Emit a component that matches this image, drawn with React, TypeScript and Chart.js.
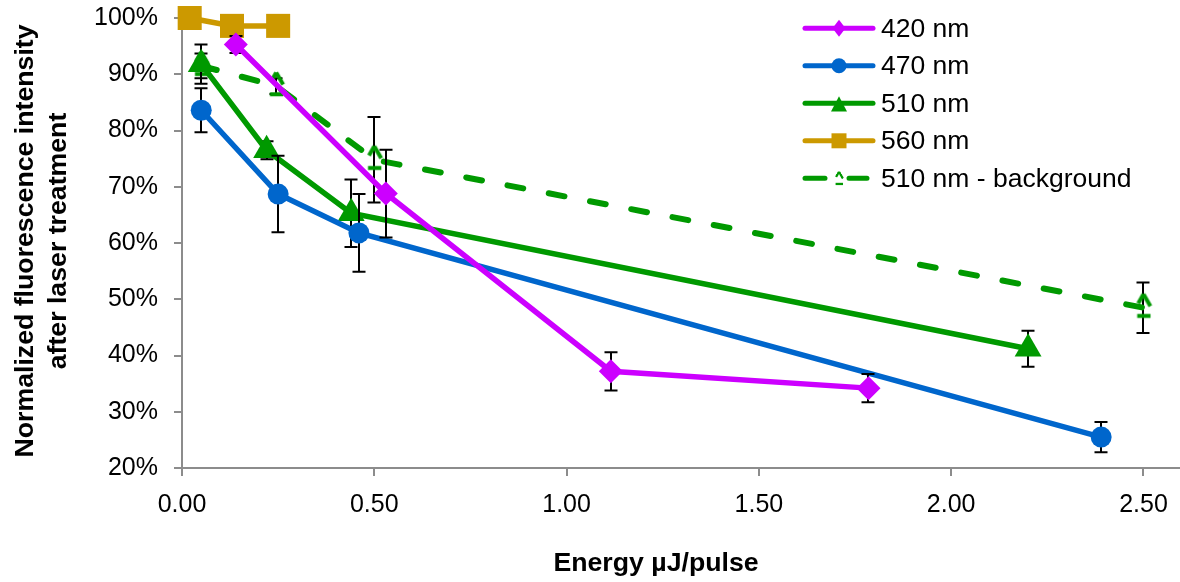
import React, { useEffect, useRef } from 'react';
import { Chart, registerables } from 'chart.js';

Chart.register(...registerables);

const FONT = '"Liberation Sans", Arial, Helvetica, sans-serif';

// ---- data ----
const seriesNames = ['420 nm', '470 nm', '510 nm', '560 nm', '510 nm - background'];

const x420 = [0.14, 0.53, 1.115, 1.785];
const y420 = [95.3, 68.8, 37.2, 34.2];
const e420 = [1.5, 7.8, 3.4, 2.5];

const x470 = [0.05, 0.25, 0.46, 2.39];
const y470 = [83.6, 68.7, 61.8, 25.5];
const e470 = [3.9, 6.8, 6.9, 2.7];

const x510 = [0.05, 0.22, 0.44, 2.2];
const y510 = [91.8, 76.5, 65.3, 41.2];
const e510 = [3.5, 1.6, 6.0, 3.2];

const x560 = [0.02, 0.13, 0.25];
const y560 = [100, 98.6, 98.6];
const e560 = [0, 0, 0];

const xBg = [0.05, 0.245, 0.5, 2.5];
const yBg = [91.5, 87.9, 74.8, 48.5];
const eBg = [2.2, 1.4, 7.6, 4.5];

const xTicks = [0, 0.5, 1, 1.5, 2, 2.5];
const yTicks = [20, 30, 40, 50, 60, 70, 80, 90, 100];

const xTitle = 'Energy µJ/pulse';
const yTitle = ['Normalized fluorescence intensity', 'after laser treatment'];

const C420 = '#CC00FF';
const C470 = '#0066CC';
const C510 = '#009900';
const C560 = '#CC9900';
const AXIS = '#8c8c8c';

const pts = (xs: number[], ys: number[]) => xs.map((x, i) => ({ x, y: ys[i] }));

function makeBgMarker(): HTMLCanvasElement {
  const c = document.createElement('canvas');
  c.width = 36;
  c.height = 36;
  const g = c.getContext('2d')!;
  const cx = 18, cy = 19, r = 14.5;
  const ax = cx, ay = cy - r;
  const lx = cx - r * Math.sqrt(3) / 2, ly = cy + r / 2;
  const rx = cx + r * Math.sqrt(3) / 2, ry = cy + r / 2;
  g.strokeStyle = C510;
  g.lineWidth = 4;
  g.lineCap = 'butt';
  g.beginPath();
  g.moveTo(ax, ay);
  g.lineTo(ax + (lx - ax) * 0.42, ay + (ly - ay) * 0.42);
  g.moveTo(ax, ay);
  g.lineTo(ax + (rx - ax) * 0.55, ay + (ry - ay) * 0.55);
  g.moveTo(lx + (rx - lx) * 0.25, ly);
  g.lineTo(lx + (rx - lx) * 0.78, ly);
  g.stroke();
  return c;
}

const errorBarPlugin = {
  id: 'errbars',
  beforeDatasetDraw(chart: any, args: any) {
    const ds = chart.data.datasets[args.index];
    const errs: number[] | undefined = ds.errors;
    if (!errs) return;
    const xs = chart.scales.x;
    const ys = chart.scales.y;
    const ctx = chart.ctx;
    ctx.save();
    ctx.strokeStyle = '#000';
    ctx.lineWidth = 2;
    ds.data.forEach((p: any, i: number) => {
      const e = errs[i];
      if (!e) return;
      const px = Math.round(xs.getPixelForValue(p.x));
      const top = ys.getPixelForValue(p.y + e);
      const bot = ys.getPixelForValue(p.y - e);
      ctx.beginPath();
      ctx.moveTo(px, top);
      ctx.lineTo(px, bot);
      ctx.moveTo(px - 6.5, top);
      ctx.lineTo(px + 6.5, top);
      ctx.moveTo(px - 6.5, bot);
      ctx.lineTo(px + 6.5, bot);
      ctx.stroke();
    });
    ctx.restore();
  },
};

function makeOverlayPlugin(bgImg: HTMLCanvasElement) {
  return {
    id: 'overlay',
    afterDraw(chart: any) {
      const ctx = chart.ctx;
      const area = chart.chartArea;
      ctx.save();
      // axis titles
      ctx.fillStyle = '#000';
      ctx.font = `bold 26.7px ${FONT}`;
      ctx.textAlign = 'center';
      ctx.textBaseline = 'alphabetic';
      ctx.fillText(xTitle, 656, 571);
      const cyTitle = (area.top + area.bottom) / 2 - 2;
      const lineX = [33, 66];
      yTitle.forEach((t, i) => {
        ctx.save();
        ctx.translate(lineX[i], cyTitle);
        ctx.rotate(-Math.PI / 2);
        ctx.textAlign = 'center';
        ctx.textBaseline = 'alphabetic';
        ctx.fillText(t, 0, 0);
        ctx.restore();
      });

      // legend
      const x0 = 805, x1 = 873, mx = 839, tx = 881;
      const rowY = (i: number) => 28.3 + i * 37.5;
      const colors = [C420, C470, C510, C560, C510];
      seriesNames.forEach((name, i) => {
        const cy = rowY(i);
        const col = colors[i];
        ctx.strokeStyle = col;
        ctx.fillStyle = col;
        ctx.lineWidth = 5;
        ctx.lineCap = 'round';
        ctx.beginPath();
        if (i === 4) {
          ctx.moveTo(x0, cy);
          ctx.lineTo(825, cy);
          ctx.moveTo(849, cy);
          ctx.lineTo(867, cy);
        } else {
          ctx.moveTo(x0, cy);
          ctx.lineTo(x1, cy);
        }
        ctx.stroke();
        ctx.beginPath();
        if (i === 0) {
          ctx.moveTo(mx, cy - 8.5);
          ctx.lineTo(mx + 6.5, cy);
          ctx.lineTo(mx, cy + 8.5);
          ctx.lineTo(mx - 6.5, cy);
          ctx.closePath();
          ctx.fill();
        } else if (i === 1) {
          ctx.arc(mx, cy, 7.5, 0, Math.PI * 2);
          ctx.fill();
        } else if (i === 2) {
          ctx.moveTo(mx, cy - 7);
          ctx.lineTo(mx + 8, cy + 8.3);
          ctx.lineTo(mx - 8, cy + 8.3);
          ctx.closePath();
          ctx.fill();
        } else if (i === 3) {
          ctx.rect(mx - 7.5, cy - 7.5, 15, 15);
          ctx.fill();
        } else {
          ctx.drawImage(bgImg, mx - 10, cy - 9, 20, 20);
        }
        ctx.fillStyle = '#000';
        ctx.font = `26.5px ${FONT}`;
        ctx.textAlign = 'left';
        ctx.textBaseline = 'middle';
        ctx.fillText(name, tx, cy + 1);
      });
      ctx.restore();
    },
  };
}

export default function App() {
  const ref = useRef<HTMLCanvasElement | null>(null);

  useEffect(() => {
    if (!ref.current) return;
    const bgImg = makeBgMarker();
    const tickFont = { family: FONT, size: 25 };
    const chart = new Chart(ref.current, {
      type: 'line',
      data: {
        datasets: [
          {
            label: seriesNames[0],
            data: pts(x420, y420),
            borderColor: C420,
            backgroundColor: C420,
            borderWidth: 5.5,
            pointStyle: 'rectRot',
            pointRadius: 12,
            pointBorderWidth: 0,
            pointBackgroundColor: C420,
            order: 1,
            clip: false,
            errors: e420,
          } as any,
          {
            label: seriesNames[1],
            data: pts(x470, y470),
            borderColor: C470,
            backgroundColor: C470,
            borderWidth: 5.5,
            pointStyle: 'circle',
            pointRadius: 10.5,
            pointBorderWidth: 0,
            pointBackgroundColor: C470,
            order: 2,
            clip: false,
            errors: e470,
          } as any,
          {
            label: seriesNames[2],
            data: pts(x510, y510),
            borderColor: C510,
            backgroundColor: C510,
            borderWidth: 5.5,
            pointStyle: 'triangle',
            pointRadius: 15.5,
            pointBorderWidth: 0,
            pointBackgroundColor: C510,
            order: 3,
            clip: false,
            errors: e510,
          } as any,
          {
            label: seriesNames[3],
            data: pts(x560, y560),
            borderColor: C560,
            backgroundColor: C560,
            borderWidth: 5.5,
            pointStyle: 'rect',
            pointRadius: 17,
            pointBorderWidth: 0,
            pointBackgroundColor: C560,
            order: 4,
            clip: false,
            errors: e560,
          } as any,
          {
            label: seriesNames[4],
            data: pts(xBg, yBg),
            borderColor: C510,
            backgroundColor: C510,
            borderWidth: 6,
            borderDash: [16, 26],
            borderCapStyle: 'round',
            pointStyle: bgImg,
            pointRadius: 15,
            order: 5,
            clip: false,
            errors: eBg,
          } as any,
        ],
      },
      options: {
        animation: false,
        responsive: false,
        events: [],
        layout: { autoPadding: false, padding: { top: 18, right: 0, bottom: 0, left: 0 } },
        plugins: {
          legend: { display: false },
          tooltip: { enabled: false },
          title: { display: false },
        },
        scales: {
          x: {
            type: 'linear',
            min: 0,
            max: 2.595,
            afterBuildTicks: (s: any) => {
              s.ticks = xTicks.map((v) => ({ value: v }));
            },
            afterFit: (s: any) => {
              s.height = 114;
              s.paddingLeft = 0;
              s.paddingRight = 0;
            },
            ticks: {
              font: tickFont,
              color: '#000',
              padding: 14,
              maxRotation: 0,
              autoSkip: false,
              callback: (v: any) => Number(v).toFixed(2),
            },
            grid: {
              display: true,
              drawOnChartArea: false,
              drawTicks: true,
              tickLength: 8,
              color: AXIS,
              lineWidth: 2,
            },
            border: { display: true, color: AXIS, width: 2 },
          },
          y: {
            type: 'linear',
            min: 20,
            max: 100,
            afterBuildTicks: (s: any) => {
              s.ticks = yTicks.map((v) => ({ value: v }));
            },
            afterFit: (s: any) => {
              s.width = 182;
              s.paddingTop = 0;
              s.paddingBottom = 0;
            },
            ticks: {
              font: tickFont,
              color: '#000',
              padding: 16,
              autoSkip: false,
              callback: (v: any) => `${v}%`,
            },
            grid: {
              display: true,
              drawOnChartArea: false,
              drawTicks: true,
              tickLength: 8,
              color: AXIS,
              lineWidth: 2,
            },
            border: { display: true, color: AXIS, width: 2 },
          },
        },
      } as any,
      plugins: [errorBarPlugin, makeOverlayPlugin(bgImg)],
    });
    return () => chart.destroy();
  }, []);

  return (
    <div style={{ position: 'fixed', left: 0, top: 0, width: 1180, height: 582, background: '#fff' }}>
      <canvas ref={ref} width={1180} height={582} style={{ display: 'block', width: 1180, height: 582 }} />
    </div>
  );
}
